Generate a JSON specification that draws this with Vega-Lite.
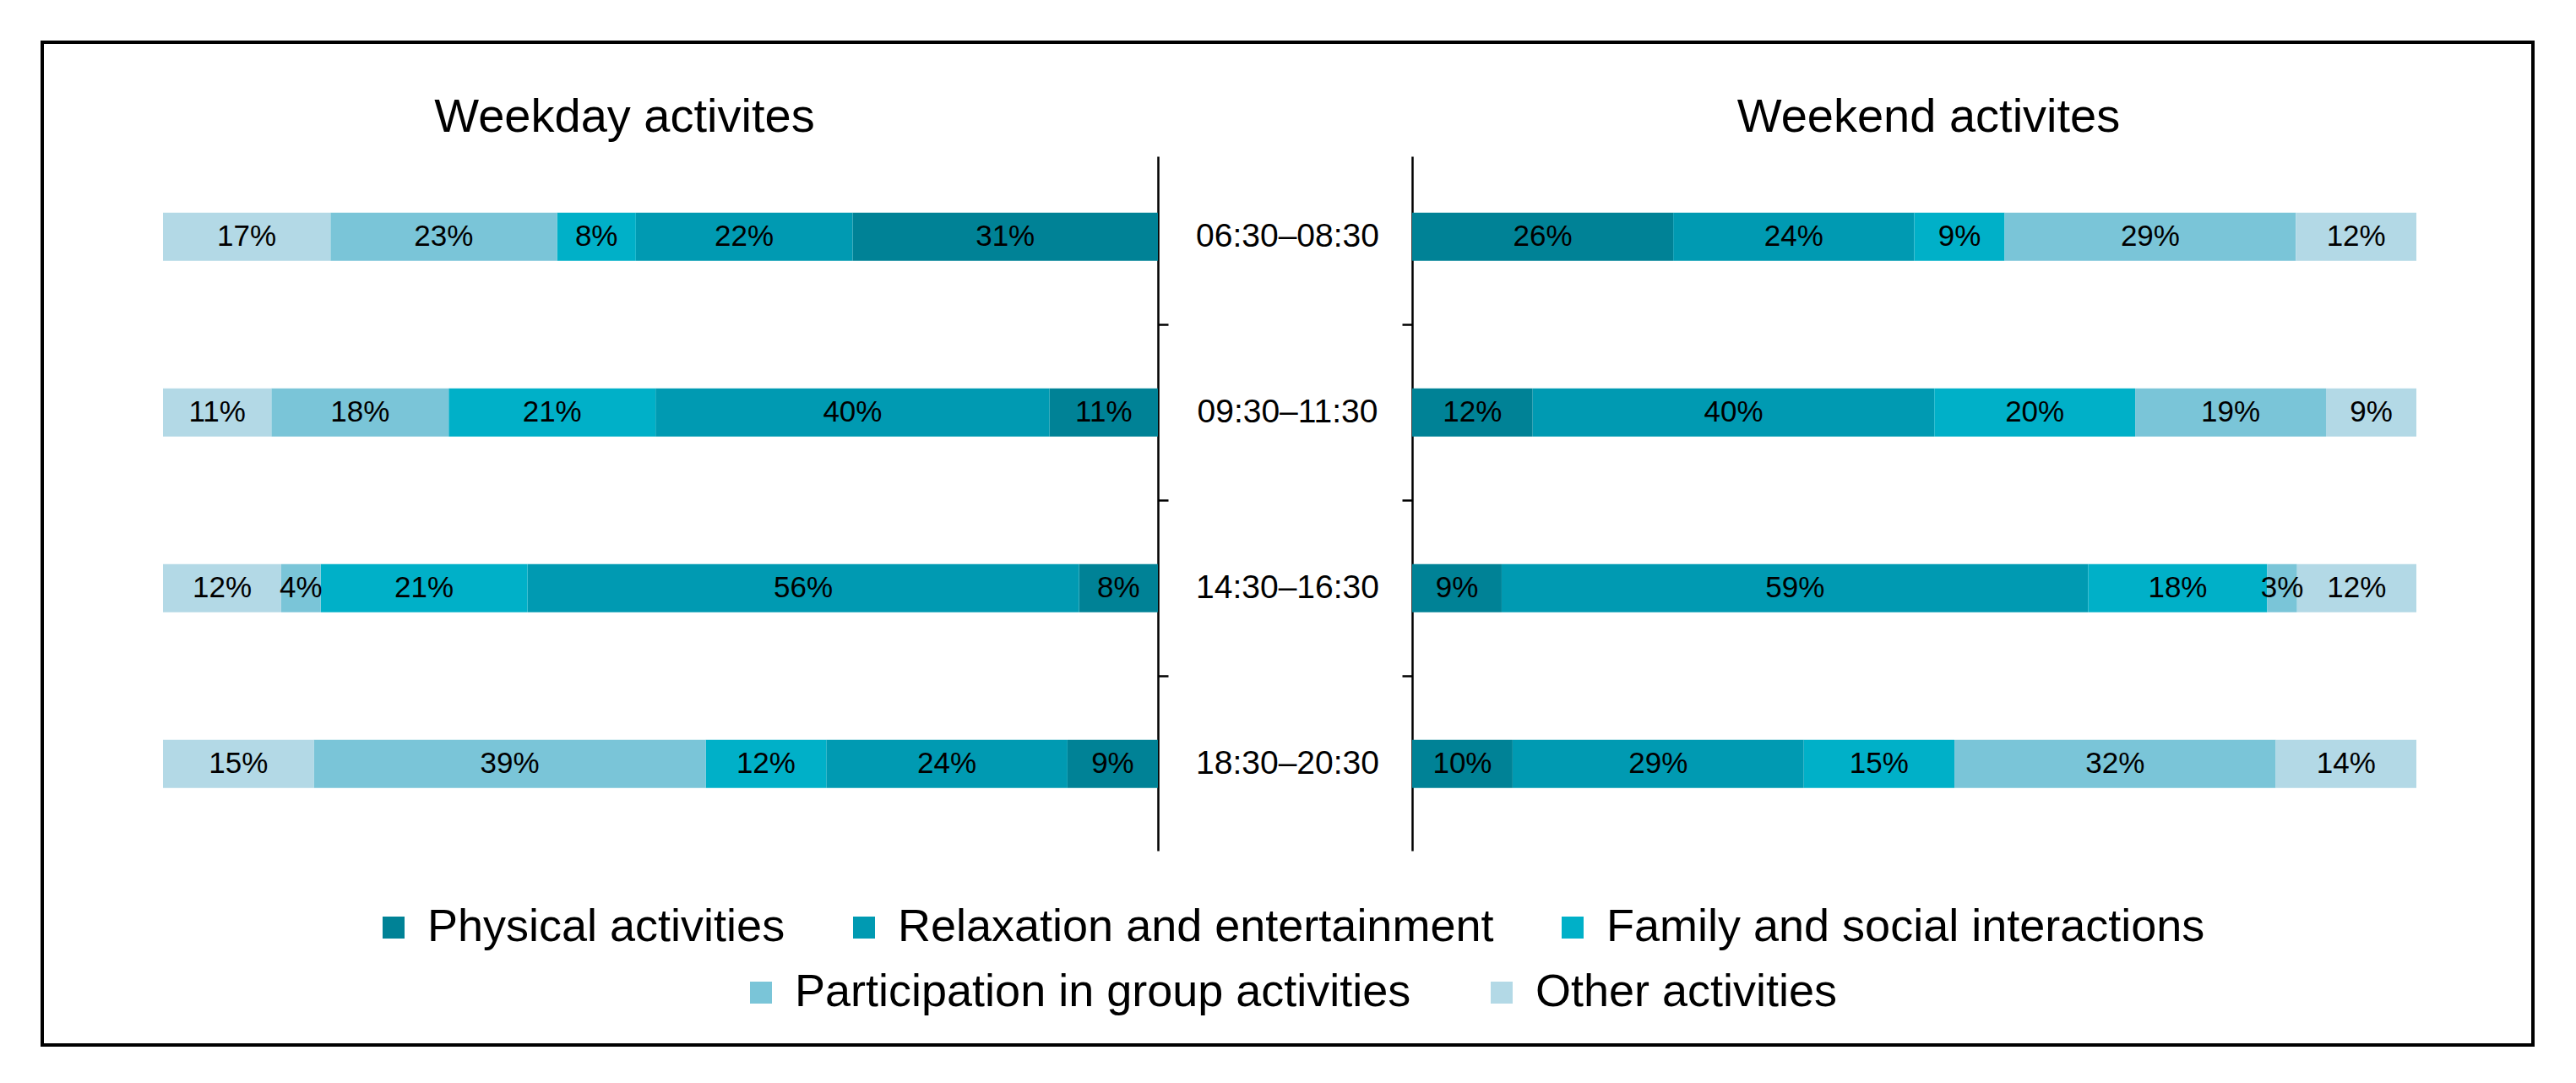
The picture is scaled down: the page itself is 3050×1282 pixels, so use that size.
{
  "$schema": "https://vega.github.io/schema/vega-lite/v6.json",
  "width": 3050,
  "height": 1282,
  "autosize": {"type": "fit", "contains": "padding"},
  "padding": {"left": 50, "top": 50, "right": 51, "bottom": 45},
  "background": "white",
  "data": {
    "values": [
      {"side": "Weekday", "time": "06:30–08:30", "activity": "Physical activities", "k": 1, "v": 0.31},
      {"side": "Weekday", "time": "06:30–08:30", "activity": "Relaxation and entertainment", "k": 2, "v": 0.22},
      {"side": "Weekday", "time": "06:30–08:30", "activity": "Family and social interactions", "k": 3, "v": 0.08},
      {"side": "Weekday", "time": "06:30–08:30", "activity": "Participation in group activities", "k": 4, "v": 0.23},
      {"side": "Weekday", "time": "06:30–08:30", "activity": "Other activities", "k": 5, "v": 0.17},
      {"side": "Weekday", "time": "09:30–11:30", "activity": "Physical activities", "k": 1, "v": 0.11},
      {"side": "Weekday", "time": "09:30–11:30", "activity": "Relaxation and entertainment", "k": 2, "v": 0.40},
      {"side": "Weekday", "time": "09:30–11:30", "activity": "Family and social interactions", "k": 3, "v": 0.21},
      {"side": "Weekday", "time": "09:30–11:30", "activity": "Participation in group activities", "k": 4, "v": 0.18},
      {"side": "Weekday", "time": "09:30–11:30", "activity": "Other activities", "k": 5, "v": 0.11},
      {"side": "Weekday", "time": "14:30–16:30", "activity": "Physical activities", "k": 1, "v": 0.08},
      {"side": "Weekday", "time": "14:30–16:30", "activity": "Relaxation and entertainment", "k": 2, "v": 0.56},
      {"side": "Weekday", "time": "14:30–16:30", "activity": "Family and social interactions", "k": 3, "v": 0.21},
      {"side": "Weekday", "time": "14:30–16:30", "activity": "Participation in group activities", "k": 4, "v": 0.04},
      {"side": "Weekday", "time": "14:30–16:30", "activity": "Other activities", "k": 5, "v": 0.12},
      {"side": "Weekday", "time": "18:30–20:30", "activity": "Physical activities", "k": 1, "v": 0.09},
      {"side": "Weekday", "time": "18:30–20:30", "activity": "Relaxation and entertainment", "k": 2, "v": 0.24},
      {"side": "Weekday", "time": "18:30–20:30", "activity": "Family and social interactions", "k": 3, "v": 0.12},
      {"side": "Weekday", "time": "18:30–20:30", "activity": "Participation in group activities", "k": 4, "v": 0.39},
      {"side": "Weekday", "time": "18:30–20:30", "activity": "Other activities", "k": 5, "v": 0.15},
      {"side": "Weekend", "time": "06:30–08:30", "activity": "Physical activities", "k": 1, "v": 0.26},
      {"side": "Weekend", "time": "06:30–08:30", "activity": "Relaxation and entertainment", "k": 2, "v": 0.24},
      {"side": "Weekend", "time": "06:30–08:30", "activity": "Family and social interactions", "k": 3, "v": 0.09},
      {"side": "Weekend", "time": "06:30–08:30", "activity": "Participation in group activities", "k": 4, "v": 0.29},
      {"side": "Weekend", "time": "06:30–08:30", "activity": "Other activities", "k": 5, "v": 0.12},
      {"side": "Weekend", "time": "09:30–11:30", "activity": "Physical activities", "k": 1, "v": 0.12},
      {"side": "Weekend", "time": "09:30–11:30", "activity": "Relaxation and entertainment", "k": 2, "v": 0.40},
      {"side": "Weekend", "time": "09:30–11:30", "activity": "Family and social interactions", "k": 3, "v": 0.20},
      {"side": "Weekend", "time": "09:30–11:30", "activity": "Participation in group activities", "k": 4, "v": 0.19},
      {"side": "Weekend", "time": "09:30–11:30", "activity": "Other activities", "k": 5, "v": 0.09},
      {"side": "Weekend", "time": "14:30–16:30", "activity": "Physical activities", "k": 1, "v": 0.09},
      {"side": "Weekend", "time": "14:30–16:30", "activity": "Relaxation and entertainment", "k": 2, "v": 0.59},
      {"side": "Weekend", "time": "14:30–16:30", "activity": "Family and social interactions", "k": 3, "v": 0.18},
      {"side": "Weekend", "time": "14:30–16:30", "activity": "Participation in group activities", "k": 4, "v": 0.03},
      {"side": "Weekend", "time": "14:30–16:30", "activity": "Other activities", "k": 5, "v": 0.12},
      {"side": "Weekend", "time": "18:30–20:30", "activity": "Physical activities", "k": 1, "v": 0.10},
      {"side": "Weekend", "time": "18:30–20:30", "activity": "Relaxation and entertainment", "k": 2, "v": 0.29},
      {"side": "Weekend", "time": "18:30–20:30", "activity": "Family and social interactions", "k": 3, "v": 0.15},
      {"side": "Weekend", "time": "18:30–20:30", "activity": "Participation in group activities", "k": 4, "v": 0.32},
      {"side": "Weekend", "time": "18:30–20:30", "activity": "Other activities", "k": 5, "v": 0.14}
    ]
  },
  "resolve": {
    "scale": {"x": "independent"},
    "axis": {"x": "independent", "y": "independent"}
  },
  "layer": [
    {
      "transform": [{"filter": "datum.side === 'Weekday'"}],
      "layer": [
        {
          "mark": {"type": "bar"},
          "encoding": {
            "y": {
              "field": "time", "type": "nominal",
              "scale": {
                "domain": ["06:30–08:30", "09:30–11:30", "14:30–16:30", "18:30–20:30"],
                "range": [135, 957],
                "paddingInner": 0.726, "paddingOuter": 0.339, "align": 0.473
              },
              "axis": {
                "orient": "left", "offset": -1321, "labels": false, "title": null,
                "domainColor": "black", "domainWidth": 2.5,
                "tickColor": "black", "tickWidth": 2.5, "tickSize": -12,
                "bandPosition": 0, "tickOffset": -75.5,
                "values": ["09:30–11:30", "14:30–16:30", "18:30–20:30"]
              }
            },
            "x": {
              "field": "v", "type": "quantitative", "stack": "normalize",
              "scale": {"domain": [0, 1], "range": [1321, 143], "nice": false},
              "axis": {
                "orient": "top", "offset": -135, "domain": false, "ticks": false, "labels": false, "grid": false,
                "title": "Weekday activites", "titleX": 689, "titleY": -30,
                "titleBaseline": "alphabetic", "titleAlign": "center", "titleFontSize": 56,
                "titleFontWeight": "normal", "titleColor": "black", "titleFont": "Liberation Sans"
              }
            },
            "color": {
              "field": "activity", "type": "nominal",
              "scale": {
                "domain": ["Physical activities", "Relaxation and entertainment", "Family and social interactions", "Participation in group activities", "Other activities"],
                "range": ["#008296", "#009AB2", "#00B0C8", "#7AC5D8", "#B3D9E6"]
              },
              "legend": {
                "values": ["Physical activities", "Relaxation and entertainment", "Family and social interactions"],
                "orient": "bottom", "direction": "horizontal", "columnPadding": 66, "offset": -166
              }
            },
            "order": {"field": "k", "type": "quantitative"}
          }
        },
        {
          "mark": {"type": "text", "fontSize": 35, "color": "black", "font": "Liberation Sans"},
          "encoding": {
            "y": {"field": "time", "type": "nominal"},
            "x": {"field": "v", "type": "quantitative", "stack": "normalize", "bandPosition": 0.5},
            "detail": {"field": "activity"},
            "order": {"field": "k", "type": "quantitative"},
            "text": {"field": "v", "type": "quantitative", "format": ".0%"}
          }
        }
      ]
    },
    {
      "transform": [{"filter": "datum.side === 'Weekend'"}],
      "layer": [
        {
          "mark": {"type": "bar"},
          "encoding": {
            "y": {
              "field": "time", "type": "nominal",
              "axis": {
                "orient": "left", "offset": -1622, "labels": false, "title": null,
                "domainColor": "black", "domainWidth": 2.5,
                "tickColor": "black", "tickWidth": 2.5, "tickSize": 12,
                "bandPosition": 0, "tickOffset": -75.5,
                "values": ["09:30–11:30", "14:30–16:30", "18:30–20:30"]
              }
            },
            "x": {
              "field": "v", "type": "quantitative", "stack": "normalize",
              "scale": {"domain": [0, 1], "range": [1622, 2811], "nice": false},
              "axis": {
                "orient": "top", "offset": -135, "domain": false, "ticks": false, "labels": false, "grid": false,
                "title": "Weekend activites", "titleX": 2233, "titleY": -30,
                "titleBaseline": "alphabetic", "titleAlign": "center", "titleFontSize": 56,
                "titleFontWeight": "normal", "titleColor": "black", "titleFont": "Liberation Sans"
              }
            },
            "fill": {
              "field": "activity", "type": "nominal",
              "scale": {
                "domain": ["Other activities", "Participation in group activities", "Family and social interactions", "Relaxation and entertainment", "Physical activities"],
                "range": ["#B3D9E6", "#7AC5D8", "#00B0C8", "#009AB2", "#008296"]
              },
              "legend": {
                "values": ["Participation in group activities", "Other activities"],
                "orient": "bottom", "direction": "horizontal", "columnPadding": 80, "offset": -166
              }
            },
            "order": {"field": "k", "type": "quantitative"}
          }
        },
        {
          "mark": {"type": "text", "fontSize": 35, "color": "black", "font": "Liberation Sans"},
          "encoding": {
            "y": {"field": "time", "type": "nominal"},
            "x": {"field": "v", "type": "quantitative", "stack": "normalize", "bandPosition": 0.5},
            "detail": {"field": "activity"},
            "order": {"field": "k", "type": "quantitative"},
            "text": {"field": "v", "type": "quantitative", "format": ".0%"}
          }
        }
      ]
    },
    {
      "transform": [{"filter": "datum.side === 'Weekday' && datum.k === 1"}],
      "mark": {"type": "text", "fontSize": 39, "color": "black", "font": "Liberation Sans"},
      "encoding": {
        "y": {"field": "time", "type": "nominal", "axis": null},
        "text": {"field": "time", "type": "nominal"}
      }
    }
  ],
  "config": {
    "font": "Liberation Sans",
    "view": {"stroke": "black", "strokeWidth": 4},
    "axis": {"grid": false},
    "legend": {
      "title": null,
      "labelFont": "Liberation Sans",
      "labelFontSize": 54,
      "labelColor": "black",
      "labelLimit": 2000,
      "labelOffset": 13,
      "symbolType": "square",
      "symbolSize": 676,
      "symbolStrokeWidth": 0,
      "padding": 0,
      "layout": {"bottom": {"anchor": "middle", "direction": "vertical", "center": true, "margin": 23}}
    }
  }
}
